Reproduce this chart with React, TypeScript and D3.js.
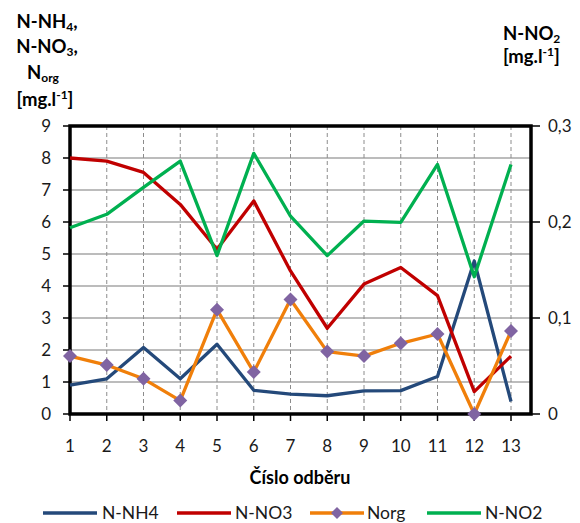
import React from "react";
import * as d3 from "d3";

// Sampling points (číslo odběru)
const samples = [1, 2, 3, 4, 5, 6, 7, 8, 9, 10, 11, 12, 13];

// Concentrations in mg/l (left axis)
const nh4 = [0.9, 1.1, 2.08, 1.1, 2.18, 0.74, 0.62, 0.57, 0.72, 0.73, 1.17, 4.78, 0.39];
const no3 = [8.0, 7.9, 7.55, 6.55, 5.15, 6.66, 4.47, 2.68, 4.06, 4.58, 3.7, 0.7, 1.81];
const norg = [1.81, 1.53, 1.1, 0.42, 3.26, 1.31, 3.58, 1.95, 1.81, 2.21, 2.5, 0.0, 2.59];
// Nitrite in mg/l (right axis)
const no2 = [0.194, 0.208, 0.236, 0.2635, 0.165, 0.2715, 0.206, 0.165, 0.201, 0.1997, 0.26, 0.143, 0.26];

const leftTicks = [0, 1, 2, 3, 4, 5, 6, 7, 8, 9];
const rightTicks = [0, 0.1, 0.2, 0.3];

const FONT = "Lato, 'Open Sans', sans-serif";

const COLORS = {
  nh4: "#24497A",
  no3: "#C00000",
  norg: "#F07F0A",
  marker: "#8064A2",
  no2: "#00B050",
};

const W = 580;
const H = 523;
const plot = { left: 70, right: 531, top: 126, bottom: 414 };

export default function App() {
  const x = d3.scaleLinear().domain([1, 13]).range([plot.left, 511]);
  const yL = d3.scaleLinear().domain([0, 9]).range([plot.bottom, plot.top]);
  const yR = d3.scaleLinear().domain([0, 0.3]).range([plot.bottom, plot.top]);

  const lineL = d3
    .line<number>()
    .x((_, i) => x(samples[i]))
    .y((d) => yL(d));
  const lineR = d3
    .line<number>()
    .x((_, i) => x(samples[i]))
    .y((d) => yR(d));

  const fmtR = (v: number) => (v === 0 ? "0" : v.toFixed(1).replace(".", ","));
  const diamond = (cx: number, cy: number, r: number) =>
    `M${cx},${cy - r}L${cx + r},${cy}L${cx},${cy + r}L${cx - r},${cy}Z`;

  const legend = [
    { key: "nh4", label: "N-NH4", x0: 43, x1: 97, tx: 102, marker: false },
    { key: "no3", label: "N-NO3", x0: 177, x1: 231, tx: 235, marker: false },
    { key: "norg", label: "Norg", x0: 310, x1: 364, tx: 367, marker: true },
    { key: "no2", label: "N-NO2", x0: 427, x1: 481, tx: 485, marker: false },
  ];

  return (
    <svg
      width={W}
      height={H}
      style={{ position: "absolute", left: 0, top: 0, background: "#fff" }}
      fontFamily={FONT}
    >
      <rect width={W} height={H} fill="#fff" />

      {/* horizontal grid */}
      {leftTicks
        .filter((t) => t > 0 && t < 9)
        .map((t) => (
          <line
            key={`hg${t}`}
            x1={plot.left}
            x2={plot.right}
            y1={yL(t)}
            y2={yL(t)}
            stroke="#A6A6A6"
            strokeWidth={1.5}
          />
        ))}
      {/* vertical dashed grid */}
      {samples
        .filter((s) => s > 1)
        .map((s) => (
          <line
            key={`vg${s}`}
            x1={x(s)}
            x2={x(s)}
            y1={plot.top}
            y2={plot.bottom}
            stroke="#8C8C8C"
            strokeWidth={1}
            strokeDasharray="4,3"
          />
        ))}

      {/* axis ticks */}
      {leftTicks.map((t) => (
        <line key={`lt${t}`} x1={63} x2={plot.left} y1={yL(t)} y2={yL(t)} stroke="#000" strokeWidth={1.5} />
      ))}
      {rightTicks.map((t) => (
        <line key={`rt${t}`} x1={plot.right} x2={540} y1={yR(t)} y2={yR(t)} stroke="#000" strokeWidth={1.5} />
      ))}
      {samples.map((s) => (
        <line key={`bt${s}`} x1={x(s)} x2={x(s)} y1={plot.bottom} y2={421} stroke="#000" strokeWidth={1.5} />
      ))}

      {/* plot frame */}
      <rect
        x={plot.left}
        y={plot.top}
        width={plot.right - plot.left}
        height={plot.bottom - plot.top}
        fill="none"
        stroke="#000"
        strokeWidth={3.5}
      />

      {/* series */}
      <path d={lineL(nh4) ?? ""} fill="none" stroke={COLORS.nh4} strokeWidth={3.3} strokeLinejoin="round" />
      <path d={lineL(no3) ?? ""} fill="none" stroke={COLORS.no3} strokeWidth={3.3} strokeLinejoin="round" />
      <path d={lineL(norg) ?? ""} fill="none" stroke={COLORS.norg} strokeWidth={3.3} strokeLinejoin="round" />
      {norg.map((v, i) => (
        <path key={`m${i}`} d={diamond(x(samples[i]), yL(v), 7)} fill={COLORS.marker} />
      ))}
      <path d={lineR(no2) ?? ""} fill="none" stroke={COLORS.no2} strokeWidth={3.3} strokeLinejoin="round" />

      {/* left axis labels */}
      {leftTicks.map((t) => (
        <text key={`ll${t}`} x={51} y={yL(t)} dy="0.36em" textAnchor="end" fontSize={17} fill="#1a1a1a">
          {t}
        </text>
      ))}
      {/* right axis labels */}
      {rightTicks.map((t) => (
        <text key={`rl${t}`} x={548} y={yR(t)} dy="0.36em" textAnchor="start" fontSize={17} fill="#1a1a1a">
          {fmtR(t)}
        </text>
      ))}
      {/* x axis labels */}
      {samples.map((s) => (
        <text key={`xl${s}`} x={x(s)} y={446} dy="0.36em" textAnchor="middle" fontSize={17} fill="#1a1a1a">
          {s}
        </text>
      ))}
      <text x={300} y={478} dy="0.36em" textAnchor="middle" fontSize={18} fontWeight="bold" fill="#000">
        Číslo odběru
      </text>

      {/* left axis title */}
      <g fontSize={18.5} fontWeight="bold" fill="#000" textAnchor="middle">
        <text x={47} y={28}>
          N-NH<tspan fontSize={12} dy={3}>4</tspan>
          <tspan dy={-3}>,</tspan>
        </text>
        <text x={47} y={53}>
          N-NO<tspan fontSize={12} dy={3}>3</tspan>
          <tspan dy={-3}>,</tspan>
        </text>
        <text x={43} y={79}>
          N<tspan fontSize={12} dy={3}>org</tspan>
        </text>
        <text x={45} y={106}>
          [mg.l<tspan fontSize={12} dy={-7}>-1</tspan>
          <tspan dy={7}>]</tspan>
        </text>
      </g>

      {/* right axis title */}
      <g fontSize={18.5} fontWeight="bold" fill="#000" textAnchor="start">
        <text x={503} y={40}>
          N-NO<tspan fontSize={12} dy={3}>2</tspan>
        </text>
        <text x={503} y={63}>
          [mg.l<tspan fontSize={12} dy={-7}>-1</tspan>
          <tspan dy={7}>]</tspan>
        </text>
      </g>

      {/* legend */}
      {legend.map((l) => {
        const c = (COLORS as any)[l.key];
        const ly = 513;
        return (
          <g key={l.key}>
            <line x1={l.x0} x2={l.x1} y1={ly} y2={ly} stroke={c} strokeWidth={3.3} />
            {l.marker && <path d={diamond((l.x0 + l.x1) / 2, ly, 6)} fill={COLORS.marker} />}
            <text x={l.tx} y={519} fontSize={17.5} fill="#1a1a1a">
              {l.label}
            </text>
          </g>
        );
      })}
    </svg>
  );
}
